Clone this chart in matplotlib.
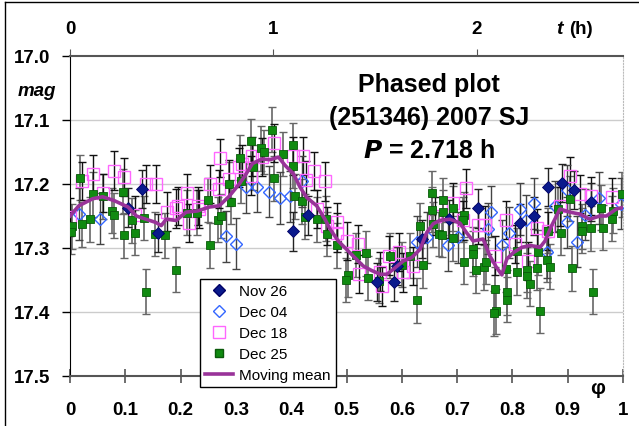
import numpy as np
import matplotlib
matplotlib.use('Agg')
import matplotlib.pyplot as plt
from matplotlib.lines import Line2D

plt.rcParams['font.family'] = ['Liberation Sans', 'DejaVu Sans']

P = 2.718  # period, h

nov26_phase = [0.105, 0.131, 0.160, 0.404, 0.431, 0.556, 0.585, 0.591, 0.636, 0.686,
               0.737, 0.813, 0.839, 0.864, 0.889, 0.912, 0.943]
nov26_mag = [17.237, 17.208, 17.277, 17.274, 17.249, 17.353, 17.353, 17.328, 17.286, 17.255,
             17.238, 17.261, 17.250, 17.205, 17.198, 17.209, 17.228]

dec04_phase = [0.016, 0.055, 0.282, 0.301, 0.318, 0.339, 0.360, 0.379, 0.397, 0.419,
               0.627, 0.645, 0.684, 0.702, 0.756, 0.761, 0.781, 0.794, 0.814, 0.825,
               0.839, 0.862, 0.877, 0.898, 0.898, 0.916, 0.931, 0.957, 0.997]
dec04_mag = [17.247, 17.254, 17.282, 17.293, 17.205, 17.204, 17.212, 17.222, 17.219, 17.196,
             17.290, 17.283, 17.296, 17.283, 17.270, 17.243, 17.296, 17.276, 17.239, 17.257,
             17.230, 17.307, 17.235, 17.210, 17.260, 17.290, 17.248, 17.222, 17.231]

dec18_phase = [0.000, 0.022, 0.041, 0.060, 0.079, 0.098, 0.118, 0.137, 0.156, 0.175,
               0.192, 0.195, 0.211, 0.215, 0.231, 0.234, 0.253, 0.269, 0.272, 0.288,
               0.305, 0.311, 0.327, 0.329, 0.347, 0.368, 0.404, 0.422, 0.427, 0.442,
               0.447, 0.461, 0.465, 0.482, 0.482, 0.501, 0.521, 0.523, 0.561, 0.564,
               0.576, 0.595, 0.603, 0.620, 0.660, 0.692, 0.711, 0.716, 0.737, 0.750,
               0.769, 0.788, 0.805, 0.828, 0.845, 0.865, 0.886, 0.904, 0.923, 0.942, 0.981]
dec18_mag = [17.252, 17.195, 17.184, 17.214, 17.179, 17.189, 17.248, 17.200, 17.200, 17.243,
             17.238, 17.234, 17.214, 17.261, 17.234, 17.239, 17.200, 17.208, 17.159, 17.192,
             17.174, 17.169, 17.187, 17.157, 17.158, 17.136, 17.156, 17.156, 17.194, 17.180,
             17.239, 17.196, 17.266, 17.260, 17.276, 17.289, 17.294, 17.341, 17.337, 17.360,
             17.312, 17.306, 17.338, 17.328, 17.250, 17.229, 17.257, 17.207, 17.264, 17.264,
             17.312, 17.256, 17.294, 17.320, 17.269, 17.273, 17.235, 17.188, 17.216, 17.219, 17.221]

dec25_phase = [0.018, 0.004, 0.001, 0.022, 0.037, 0.041, 0.059, 0.076, 0.080, 0.095,
               0.098, 0.113, 0.118, 0.134, 0.137, 0.153, 0.172, 0.192, 0.211, 0.230,
               0.249, 0.253, 0.268, 0.273, 0.288, 0.292, 0.307, 0.309,
               0.365, 0.327, 0.345, 0.350, 0.331, 0.386, 0.404, 0.403, 0.368, 0.407,
               0.419, 0.425, 0.446, 0.463, 0.464, 0.483, 0.517, 0.536, 0.503, 0.499,
               0.539, 0.558, 0.579, 0.601, 0.614, 0.627, 0.638, 0.633, 0.654, 0.654,
               0.656, 0.668,
               0.674, 0.675, 0.693, 0.712, 0.711, 0.672, 0.692, 0.729, 0.729, 0.712,
               0.734, 0.749, 0.753, 0.769, 0.770, 0.767, 0.790, 0.791, 0.788, 0.809,
               0.809, 0.826, 0.826, 0.831, 0.850, 0.847, 0.845, 0.863, 0.868, 0.865,
               0.882, 0.888, 0.904, 0.907, 0.925, 0.925, 0.943, 0.946, 0.961, 0.964,
               0.980, 0.982, 0.999]
dec25_mag = [17.190, 17.266, 17.275, 17.263, 17.255, 17.216, 17.219, 17.242, 17.249, 17.212,
             17.280, 17.257, 17.276, 17.253, 17.368, 17.278, 17.280, 17.334, 17.245, 17.245,
             17.225, 17.296, 17.256, 17.250, 17.200, 17.228, 17.159, 17.195,
             17.115, 17.133, 17.144, 17.150, 17.174, 17.153, 17.139, 17.172, 17.191, 17.219,
             17.227, 17.251, 17.255, 17.254, 17.278, 17.296, 17.311, 17.308, 17.342, 17.350,
             17.347, 17.351, 17.312, 17.326, 17.312, 17.382, 17.327, 17.265, 17.214, 17.240,
             17.263, 17.278,
             17.225, 17.244, 17.238, 17.248, 17.256, 17.279, 17.285, 17.302, 17.309, 17.322,
             17.335, 17.330, 17.322, 17.364, 17.399, 17.402, 17.369, 17.381, 17.333, 17.304,
             17.338, 17.334, 17.343, 17.356, 17.398, 17.307, 17.331, 17.318, 17.329, 17.273,
             17.239, 17.276, 17.223, 17.332, 17.266, 17.273, 17.269, 17.368, 17.237, 17.268,
             17.254, 17.242, 17.216]

mean_phase = [0.000, 0.016, 0.041, 0.059, 0.080, 0.105, 0.120, 0.137, 0.155, 0.165,
              0.174, 0.192, 0.210, 0.231, 0.252, 0.270, 0.288, 0.306, 0.318, 0.330,
              0.347, 0.362, 0.377, 0.389, 0.404, 0.416, 0.428, 0.446, 0.461, 0.470,
              0.485, 0.500, 0.515, 0.530, 0.545, 0.561, 0.573, 0.585, 0.603, 0.618,
              0.633, 0.645, 0.657, 0.669, 0.687, 0.705, 0.717, 0.729, 0.747, 0.759,
              0.771, 0.781, 0.790, 0.802, 0.817, 0.832, 0.850, 0.859, 0.871, 0.886,
              0.904, 0.922, 0.940, 0.958, 0.970, 0.988, 0.998]
mean_mag = [17.250, 17.234, 17.223, 17.220, 17.226, 17.236, 17.250, 17.255, 17.260, 17.265,
            17.255, 17.257, 17.244, 17.242, 17.236, 17.234, 17.219, 17.200, 17.185, 17.168,
            17.161, 17.162, 17.158, 17.171, 17.184, 17.205, 17.221, 17.234, 17.255, 17.270,
            17.289, 17.302, 17.315, 17.328, 17.335, 17.341, 17.341, 17.333, 17.320, 17.315,
            17.302, 17.276, 17.262, 17.257, 17.255, 17.261, 17.276, 17.289, 17.286, 17.312,
            17.330, 17.342, 17.317, 17.307, 17.299, 17.296, 17.299, 17.289, 17.265, 17.239,
            17.244, 17.247, 17.255, 17.250, 17.250, 17.239, 17.237]

# photometric errors (mag) per night
err_nov26 = 0.030
err_dec04 = 0.040
err_dec18 = 0.030
err_dec25 = 0.035

fig = plt.figure(figsize=(6.39, 4.27), dpi=100)
ax = fig.add_axes([70/639, 1-377/427, 553/639, 320/427])

ax.errorbar(dec25_phase, dec25_mag, yerr=err_dec25, fmt='none', ecolor='#666666', elinewidth=1.2, capsize=3, zorder=2)
ax.errorbar(dec18_phase, dec18_mag, yerr=err_dec18, fmt='none', ecolor='#111111', elinewidth=1.0, capsize=3, zorder=2)
ax.errorbar(dec04_phase, dec04_mag, yerr=err_dec04, fmt='none', ecolor='#444444', elinewidth=1.0, capsize=3, zorder=2)
ax.errorbar(nov26_phase, nov26_mag, yerr=err_nov26, fmt='none', ecolor='#222222', elinewidth=1.0, capsize=3, zorder=2)

ax.plot(dec04_phase, dec04_mag, 'D', ms=6.5, mfc='none', mec='#3366ff', mew=1.0, zorder=3)
ax.plot(dec18_phase, dec18_mag, 's', ms=9, mfc='none', mec='#ff66ff', mew=1.0, zorder=3)
ax.plot(dec25_phase, dec25_mag, 's', ms=5.5, mfc='#108a10', mec='#0a5a0a', mew=0.6, zorder=4)
ax.plot(nov26_phase, nov26_mag, 'D', ms=6, mfc='#0a1a8c', mec='#000066', mew=0.6, zorder=4)
ax.plot(mean_phase, mean_mag, '-', color='#993399', lw=2.6, zorder=5)

ax.set_xlim(0, 1)
ax.set_ylim(17.5, 17.0)
ax.set_xticks(np.arange(0, 1.01, 0.1))
ax.set_xticklabels(['0', '0.1', '0.2', '0.3', '0.4', '0.5', '0.6', '0.7', '0.8', '0.9', '1'])
ax.set_yticks([17.0, 17.1, 17.2, 17.3, 17.4, 17.5])
ax.set_yticklabels(['17.0', '17.1', '17.2', '17.3', '17.4', '17.5'])
ax.tick_params(axis='x', direction='inout', length=10, width=1.2, color='#555555', pad=13, labelsize=13.5)
ax.tick_params(axis='y', direction='out', length=6, width=1, color='black', pad=8, labelsize=13.5)
for lab in ax.get_xticklabels() + ax.get_yticklabels():
    lab.set_fontweight('bold')

for yv in [17.1, 17.2, 17.3, 17.4]:
    ax.axhline(yv, color='#cccccc', lw=1, zorder=1)

ax.spines['left'].set_color('black')
ax.spines['bottom'].set_color('#555555')
ax.spines['bottom'].set_linewidth(1.5)
ax.spines['top'].set_color('#555555')
ax.spines['top'].set_linewidth(1.5)
ax.spines['right'].set_color('#bbbbbb')
ax.spines['right'].set_linestyle(':')

sec = ax.secondary_xaxis('top', functions=(lambda p: p*P, lambda t: t/P))
sec.set_xticks([0, 1, 2])
sec.set_xticklabels(['0', '1', '2'])
sec.tick_params(direction='out', length=5, color='#555555', pad=9, labelsize=13.5)
for lab in sec.get_xticklabels():
    lab.set_fontweight('bold')
sec.spines['top'].set_visible(False)

fig.text(37/639, 1-92/427, 'mag', fontsize=13.5, fontweight='bold', style='italic', ha='center', va='center')
fig.text(556/639, 1-30/427, 't', fontsize=14, fontweight='bold', style='italic', ha='left', va='center')
fig.text(569/639, 1-30/427, '(h)', fontsize=13.5, fontweight='bold', ha='left', va='center')
fig.text(598/639, 1-389/427, 'φ', fontsize=15, fontweight='bold', ha='center', va='center')

ax.text(0.649, 0.9125, 'Phased plot', transform=ax.transAxes, fontsize=18, fontweight='bold', ha='center', va='center')
ax.text(0.649, 0.809, '(251346) 2007 SJ', transform=ax.transAxes, fontsize=18, fontweight='bold', ha='center', va='center')
ax.text(0.649, 0.706, '$\\boldsymbol{P}$ = 2.718 h', transform=ax.transAxes, fontsize=18, fontweight='bold', ha='center', va='center')

handles = [
    Line2D([], [], ls='none', marker='D', ms=6, mfc='#0a1a8c', mec='#000066'),
    Line2D([], [], ls='none', marker='D', ms=6.5, mfc='none', mec='#3366ff'),
    Line2D([], [], ls='none', marker='s', ms=9, mfc='none', mec='#ff66ff'),
    Line2D([], [], ls='none', marker='s', ms=5.5, mfc='#108a10', mec='#0a5a0a'),
    Line2D([], [], color='#993399', lw=2.6),
]
leg = ax.legend(handles, ['Nov 26', 'Dec 04', 'Dec 18', 'Dec 25', 'Moving mean'],
                loc='upper left', bbox_to_anchor=(0.235, 0.303), fontsize=11,
                frameon=True, fancybox=False, edgecolor='black', framealpha=1,
                handlelength=1.8, handletextpad=0.4, labelspacing=0.45, borderpad=0.35,
                borderaxespad=0)
leg.get_frame().set_linewidth(1.0)
leg.set_zorder(10)

# outer chart border
fig.add_artist(Line2D([5/639, 5/639], [0, 1-3/427], color='black', lw=1))
fig.add_artist(Line2D([5/639, 1], [1-3/427, 1-3/427], color='black', lw=1))

fig.savefig('out.png', dpi=100)
